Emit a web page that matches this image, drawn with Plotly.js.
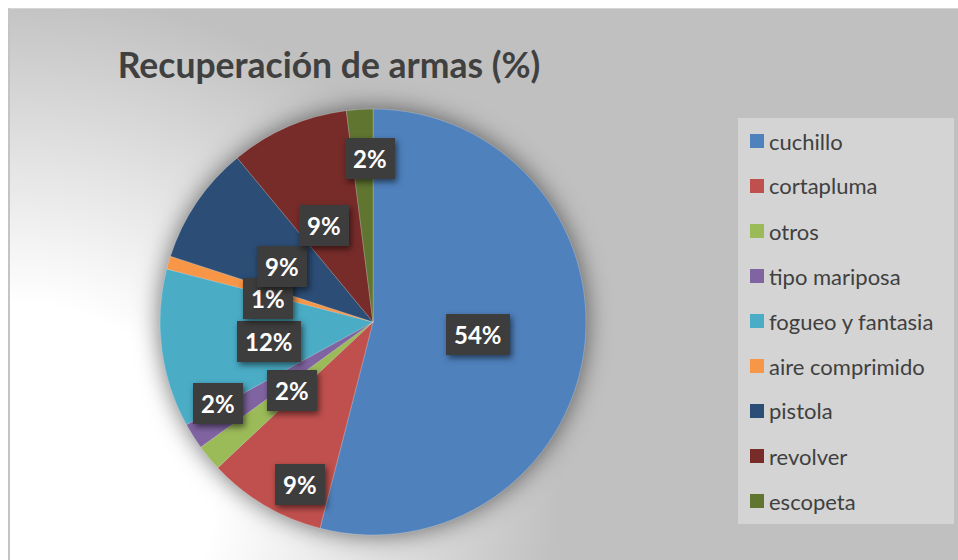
<!DOCTYPE html>
<html>
<head>
<meta charset="utf-8">
<script src="https://cdn.plot.ly/plotly-3.0.1.min.js"></script>
<style>
  html, body { margin: 0; padding: 0; background: #ffffff; }
  #bg {
    position: absolute; left: 8px; top: 8px; width: 950px; height: 552px;
    border-left: 2px solid #c4c4c4; border-top: 1px solid #d6d6d6; box-sizing: border-box;
    background: radial-gradient(ellipse 640px 580px at 0px 480px, #ffffff 0%, #ffffff 32%, #e4e4e4 56%, #c0c0c0 86%, #c0c0c0 100%);
  }
  #chart { position: absolute; left: 0; top: 0; width: 958px; height: 560px; }
  .pielayer .trace { filter: drop-shadow(0px 0px 12px rgba(0,0,0,0.55)); }
  .annotation-text-g rect.bg { filter: drop-shadow(2px 3px 3px rgba(0,0,0,0.55)); }
</style>
</head>
<body>
<div id="bg"></div>
<div id="chart"></div>
<script>
// ---- data ----
const categories = ["cuchillo", "cortapluma", "otros", "tipo mariposa", "fogueo y fantasia",
                    "aire comprimido", "pistola", "revolver", "escopeta"];
const percentages = [54, 9, 2, 2, 12, 1, 9, 9, 2];
const sliceColors = ["#4F81BD", "#C0504D", "#9BBB59", "#8064A2", "#4BACC6",
                     "#F79646", "#2C4D75", "#772C2A", "#5F7530"];
const chartTitle = "Recuperación de armas (%)";

// ---- layout helpers ----
const W = 958, H = 560;
const pieDomain = { x: [160 / W, 586 / W], y: [1 - 535 / H, 1 - 109 / H] };
const cxPx = (pieDomain.x[0] + pieDomain.x[1]) / 2 * W;
const cyPx = (1 - (pieDomain.y[0] + pieDomain.y[1]) / 2) * H;
const Rpx = (pieDomain.x[1] - pieDomain.x[0]) * W / 2;
// label placement: [radius fraction, angular nudge in degrees]
const labelPlacement = [[0.5, 1.5], [0.855, -7], [0.51, -2.4], [0.83, 3.4], [0.5, -5.6],
                        [0.5, -5.6], [0.49, -4.9], [0.49, -4.6], [0.75, 2.5]];

const total = percentages.reduce((a, b) => a + b, 0);
const annotations = [];
let cum = 0;
percentages.forEach((v, i) => {
  const mid = (cum + v / 2) / total * 360 + labelPlacement[i][1];
  cum += v;
  const th = mid * Math.PI / 180;
  const r = labelPlacement[i][0] * Rpx;
  const px = cxPx + r * Math.sin(th);
  const py = cyPx - r * Math.cos(th);
  annotations.push({
    x: px / W, y: 1 - py / H, xref: "paper", yref: "paper",
    text: "<b>" + Math.round(v / total * 100) + "%</b>",
    showarrow: false, xanchor: "center", yanchor: "middle", yshift: 4,
    font: { family: "Lato, 'Open Sans', sans-serif", size: 24, color: "#ffffff" },
    bgcolor: "#3d3d3d", borderpad: 8, borderwidth: 0, height: 25
  });
});

// custom legend (items are spaced widely)
const shapes = [{
  type: "rect", xref: "paper", yref: "paper",
  x0: 738 / W, x1: 954 / W, y0: 1 - 524 / H, y1: 1 - 118 / H,
  fillcolor: "#d4d4d4", line: { width: 0 }, layer: "below"
}];
const legTop = 141, legStep = 45;
categories.forEach((c, i) => {
  const yc = legTop + i * legStep;
  shapes.push({
    type: "rect", xref: "paper", yref: "paper",
    x0: 750 / W, x1: 764 / W, y0: 1 - (yc + 7) / H, y1: 1 - (yc - 7) / H,
    fillcolor: sliceColors[i], line: { width: 0 }
  });
  annotations.push({
    x: 767 / W, y: 1 - yc / H, xref: "paper", yref: "paper",
    text: c, showarrow: false, xanchor: "left", yanchor: "middle",
    font: { family: "Lato, 'Open Sans', sans-serif", size: 22, color: "#404040" }
  });
});

const trace = {
  type: "pie",
  labels: categories,
  values: percentages,
  sort: false,
  direction: "clockwise",
  rotation: 0,
  domain: pieDomain,
  marker: { colors: sliceColors, line: { color: "rgba(255,255,255,0.35)", width: 0.6 } },
  textinfo: "none",
  hoverinfo: "label+percent",
  showlegend: false
};

const layout = {
  width: W, height: H,
  margin: { l: 0, r: 0, t: 0, b: 0 },
  paper_bgcolor: "rgba(0,0,0,0)",
  plot_bgcolor: "rgba(0,0,0,0)",
  showlegend: false,
  title: {
    text: "<b>" + chartTitle + "</b>",
    x: 329 / W, xanchor: "center", xref: "paper",
    y: 1 - 66 / H, yanchor: "middle", yref: "paper",
    font: { family: "Lato, 'Open Sans', sans-serif", size: 35.5, color: "#404040" }
  },
  annotations: annotations,
  shapes: shapes
};

Plotly.newPlot("chart", [trace], layout, { displayModeBar: false, staticPlot: true });
</script>
</body>
</html>
